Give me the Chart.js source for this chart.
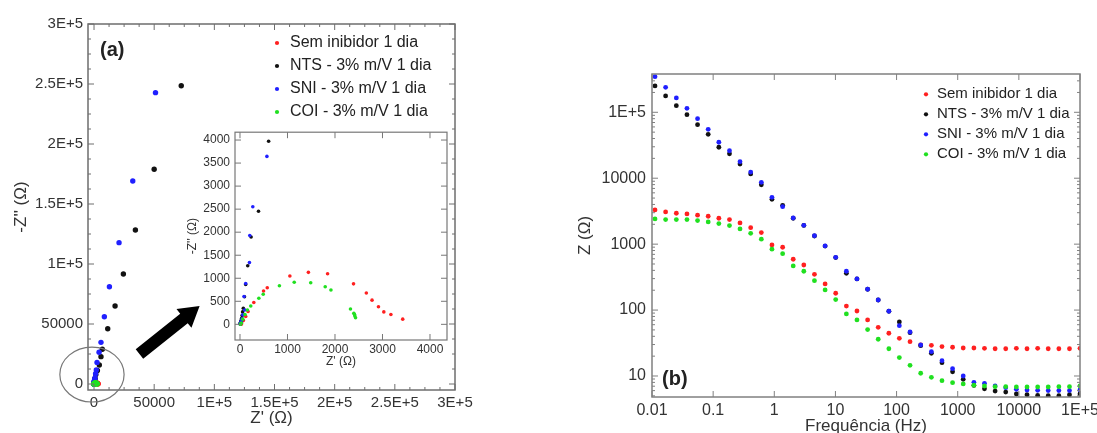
<!DOCTYPE html>
<html>
<head>
<meta charset="utf-8">
<script src="https://cdn.jsdelivr.net/npm/chart.js@4.4.1/dist/chart.umd.min.js"></script>
<style>
  html, body { margin: 0; padding: 0; background: #fff; }
  body { position: relative; width: 1097px; height: 433px; overflow: hidden; }
  canvas { position: absolute; }
  #nyq { left: 0; top: 0; }
  #inset { left: 170px; top: 120px; }
  #bode { left: 560px; top: 0; }
  .tag { position: absolute; font: bold 20px "Liberation Sans", Arial, sans-serif; color: #222; }
</style>
</head>
<body>
<canvas id="nyq" width="480" height="433"></canvas>
<canvas id="inset" width="300" height="260"></canvas>
<canvas id="bode" width="545" height="440"></canvas>
<div class="tag" style="left:100px; top:38px">(a)</div>
<div class="tag" style="left:662px; top:367px">(b)</div>
<script>
// series
var seriesNames = ['Sem inibidor 1 dia', 'NTS - 3% m/V 1 dia', 'SNI - 3% m/V 1 dia', 'COI - 3% m/V 1 dia'];
var seriesColors = ['#ff2020', '#111111', '#2020ff', '#20e020'];

// Nyquist (Z', -Z''), low frequency first
var nyqRedRe = [3426, 3177, 3028, 2915, 2780, 2660, 2390, 1844, 1440, 1050, 574, 496, 291, 170, 121, 71, 35, 26, 26];
var nyqRedIm = [113, 213, 270, 383, 525, 681, 879, 1099, 1128, 1050, 794, 723, 475, 277, 170, 85, 28, 8, 2];
var nyqBlackRe = [72500, 50000, 34400, 24400, 17500, 11400, 6900, 5800, 4400, 2800, 1500, 900, 603, 390, 234, 163, 120, 95, 70, 55, 45, 35, 25, 18, 12, 8, 6, 5];
var nyqBlackIm = [248600, 179000, 128300, 91700, 65000, 46100, 28900, 22800, 15800, 11200, 7850, 4700, 3972, 2454, 1894, 1270, 865, 600, 350, 270, 190, 130, 85, 58, 40, 25, 15, 8];
var nyqBlueRe = [51100, 32200, 20800, 12800, 8600, 5800, 4200, 2500, 1900, 1300, 800, 567, 270, 206, 199, 120, 85, 99, 57, 43, 33, 25, 18, 12, 8, 6, 5];
var nyqBlueIm = [242800, 169200, 117800, 81100, 56100, 34700, 26400, 18000, 11700, 8600, 5070, 3645, 2553, 1929, 1340, 887, 603, 312, 206, 121, 90, 55, 40, 25, 18, 12, 8];
var nyqGreenRe = [2433, 2418, 2411, 2397, 2326, 1915, 1794, 1489, 1142, 830, 489, 397, 227, 156, 106, 57, 28, 10, 7];
var nyqGreenIm = [142, 180, 213, 241, 333, 745, 816, 901, 915, 837, 652, 567, 397, 312, 213, 113, 28, 5, 1];

// Bode |Z| vs frequency
var bodeFreq = [0.0112, 0.0167, 0.025, 0.0373, 0.0556, 0.083, 0.124, 0.185, 0.275, 0.411, 0.614, 0.916, 1.37, 2.04, 3.04, 4.54, 6.78, 10.1, 15.1, 22.5, 33.6, 50.1, 74.8, 111, 166, 248, 371, 553, 824, 1230, 1840, 2740, 4090, 6100, 9100, 13600, 20300, 30200, 45100, 67300, 100000];
var bodeRed = [3300, 3080, 2940, 2870, 2750, 2650, 2470, 2360, 2100, 1780, 1500, 973, 897, 590, 483, 349, 249, 180, 115, 96.8, 70.8, 54.8, 44.5, 37.3, 33.1, 29.5, 29.2, 27.9, 27.3, 26.6, 26.6, 26.3, 25.9, 25.9, 26.3, 25.9, 26.3, 25.9, 25.9, 25.9, 26.3];
var bodeBlack = [251000, 177000, 126000, 92000, 64900, 46400, 29500, 23500, 16400, 11600, 7960, 4790, 3880, 2470, 1920, 1330, 935, 625, 361, 297, 207, 142, 95.9, 65.9, 45.4, 28.8, 22.1, 15.9, 11.6, 8.9, 7.2, 6.4, 5.9, 5.7, 5.33, 5.2, 5.08, 5.02, 5.02, 5.2, 5.33];
var bodeBlue = [347000, 239000, 165000, 115000, 80000, 55200, 35100, 26100, 17800, 12400, 8670, 5130, 3700, 2490, 1930, 1340, 940, 632, 388, 297, 207, 142, 95.9, 58, 46.5, 29.5, 23.4, 17.1, 12.9, 10, 8.02, 7.74, 7.05, 6.65, 6.28, 6.13, 6.07, 6, 6, 6, 6.13];
var bodeGreen = [2410, 2360, 2360, 2360, 2280, 2170, 2050, 1910, 1700, 1460, 1190, 838, 718, 467, 388, 279, 202, 144, 87.3, 70.8, 50.5, 36.1, 25.9, 19, 14.5, 11, 9.55, 8.49, 7.91, 7.57, 7.23, 7.05, 6.89, 6.89, 6.81, 6.81, 6.81, 6.81, 6.89, 6.89, 7.05];

// ticks
var nyqTicks = [0, 50000, 100000, 150000, 200000, 250000, 300000];
var nyqTickLabels = ['0', '50000', '1E+5', '1.5E+5', '2E+5', '2.5E+5', '3E+5'];
var insetXTicks = [0, 1000, 2000, 3000, 4000];
var insetXLabels = ['0', '1000', '2000', '3000', '4000'];
var insetYTicks = [0, 500, 1000, 1500, 2000, 2500, 3000, 3500, 4000];
var insetYLabels = ['0', '500', '1000', '1500', '2000', '2500', '3000', '3500', '4000'];
var bodeXTicks = [0.01, 0.1, 1, 10, 100, 1000, 10000, 100000];
var bodeXLabels = ['0.01', '0.1', '1', '10', '100', '1000', '10000', '1E+5'];
var bodeYTicks = [10, 100, 1000, 10000, 100000];
var bodeYLabels = ['10', '100', '1000', '10000', '1E+5'];

Chart.defaults.font.family = "'Liberation Sans', Arial, sans-serif";
Chart.defaults.color = '#333';
Chart.defaults.animation = false;

function pts(re, im) {
    return re.map(function (v, i) { return { x: v, y: im[i] }; });
}
function bodePts(z) {
    return bodeFreq.map(function (f, i) { return { x: f, y: z[i] }; });
}
// later series are painted on top, as in the original figure
function sets(list, r) {
    return seriesNames.map(function (name, i) {
        return {
            label: name, data: list[i], order: seriesNames.length - i,
            backgroundColor: seriesColors[i], borderColor: seriesColors[i], borderWidth: 0,
            pointRadius: r, pointHoverRadius: r, pointBorderWidth: 0
        };
    });
}
function axis(o) {
    return {
        type: o.type || 'linear', min: o.min, max: o.max,
        afterBuildTicks: function (s) { s.ticks = o.ticks.map(function (v) { return { value: v }; }); },
        afterFit: function (s) { if (o.w) s.width = o.w; if (o.h) s.height = o.h; },
        grid: { display: false, drawTicks: false }, border: { display: false },
        ticks: { autoSkip: false, maxRotation: 0, padding: o.pad, color: '#333', font: { size: o.fs },
                 callback: function (v, i) { return o.labels[i]; } },
        title: { display: true, text: o.title, color: '#333', font: { size: o.tfs }, padding: o.tpad }
    };
}
function frameTicks(o) {
    return {
        id: 'frameTicks',
        beforeDraw: function (chart) {
            if (!o.fill) return;
            var a = chart.chartArea, ctx = chart.ctx;
            ctx.save(); ctx.fillStyle = '#fff'; ctx.fillRect(a.left, a.top, a.width, a.height); ctx.restore();
        },
        afterDatasetsDraw: function (chart) {
            var ctx = chart.ctx, a = chart.chartArea, sx = chart.scales.x, sy = chart.scales.y;
            ctx.save();
            ctx.strokeStyle = o.color;
            ctx.lineWidth = 1;
            ctx.beginPath();
            function mark(vals, len, horiz) {
                vals.forEach(function (v) {
                    if (horiz) {
                        var p = sx.getPixelForValue(v);
                        if (p < a.left - 0.5 || p > a.right + 0.5) return;
                        ctx.moveTo(p, a.bottom); ctx.lineTo(p, a.bottom - len);
                        ctx.moveTo(p, a.top); ctx.lineTo(p, a.top + len);
                    } else {
                        var q = sy.getPixelForValue(v);
                        if (q < a.top - 0.5 || q > a.bottom + 0.5) return;
                        ctx.moveTo(a.left, q); ctx.lineTo(a.left + len, q);
                        ctx.moveTo(a.right, q); ctx.lineTo(a.right - len, q);
                    }
                });
            }
            mark(o.xMajor, 6, true); mark(o.xMinor || [], 3, true);
            mark(o.yMajor, 6, false); mark(o.yMinor || [], 3, false);
            ctx.stroke();
            ctx.lineWidth = o.width;
            ctx.strokeRect(a.left, a.top, a.width, a.height);
            ctx.restore();
        }
    };
}
function placeLegend(left, top) {
    return {
        id: 'placeLegend',
        beforeDraw: function (chart) {
            var lg = chart.legend, w = lg.width, h = lg.height;
            lg.left = left; lg.top = top; lg.right = left + w; lg.bottom = top + h;
        }
    };
}
function legendOpts(size, boxW, pad) {
    return {
        position: 'chartArea', align: 'start',
        labels: { usePointStyle: true, pointStyle: 'circle', boxWidth: boxW, boxHeight: 3, padding: pad,
                  color: '#222', font: { size: size },
                  sort: function (a, b) { return a.datasetIndex - b.datasetIndex; } }
    };
}

// minor ticks for the linear Nyquist axes
var nyqMinor = [];
for (var m = 12500; m < 300000; m += 12500) { if (m % 50000) nyqMinor.push(m); }
var bodeYMinor = [];
[1, 10, 100, 1000, 10000, 100000].forEach(function (d) {
    for (var k = 2; k <= 9; k++) bodeYMinor.push(k * d);
});

var nyqData = [pts(nyqRedRe, nyqRedIm), pts(nyqBlackRe, nyqBlackIm), pts(nyqBlueRe, nyqBlueIm), pts(nyqGreenRe, nyqGreenIm)];

var annot = {
    id: 'annot',
    afterDraw: function (chart) {
        var ctx = chart.ctx, x = chart.scales.x, y = chart.scales.y;
        var x0 = x.getPixelForValue(37750), y0 = y.getPixelForValue(25000);
        var x1 = x.getPixelForValue(87750), y1 = y.getPixelForValue(65000);
        var L = Math.hypot(x1 - x0, y1 - y0), ang = Math.atan2(y1 - y0, x1 - x0);
        var head = 20, hw = 12, sh = 6;
        ctx.save();
        ctx.translate(x0, y0); ctx.rotate(ang);
        ctx.fillStyle = '#000';
        ctx.beginPath();
        ctx.moveTo(0, -sh); ctx.lineTo(L - head, -sh); ctx.lineTo(L - head, -hw);
        ctx.lineTo(L, 0); ctx.lineTo(L - head, hw); ctx.lineTo(L - head, sh); ctx.lineTo(0, sh);
        ctx.closePath(); ctx.fill();
        ctx.restore();
        var cx = x.getPixelForValue(-1700), cy = y.getPixelForValue(7900);
        var rx = x.getPixelForValue(25000) - cx, ry = cy - y.getPixelForValue(30800);
        ctx.save();
        ctx.strokeStyle = '#777'; ctx.lineWidth = 1.2;
        ctx.beginPath(); ctx.ellipse(cx, cy, rx, ry, 0, 0, Math.PI * 2); ctx.stroke();
        ctx.restore();
    }
};

new Chart(document.getElementById('nyq'), {
    type: 'scatter',
    data: { datasets: sets(nyqData, 2.7) },
    options: {
        responsive: false, events: [],
        layout: { padding: { left: 0, top: 24, right: 25, bottom: 0 } },
        scales: {
            x: axis({ min: -5000, max: 300000, ticks: nyqTicks, labels: nyqTickLabels, h: 43, pad: 4, fs: 15,
                      title: "Z' (\u03A9)", tfs: 17, tpad: { top: 0, bottom: 4 } }),
            y: axis({ min: -5000, max: 300000, ticks: nyqTicks, labels: nyqTickLabels, w: 88, pad: 5, fs: 15,
                      title: "-Z'' (\u03A9)", tfs: 17, tpad: { top: 11, bottom: 0 } })
        },
        plugins: { tooltip: { enabled: false }, legend: legendOpts(16, 10, 7) }
    },
    plugins: [frameTicks({ color: '#6e6e6e', width: 1.5, xMajor: nyqTicks, xMinor: nyqMinor, yMajor: nyqTicks, yMinor: nyqMinor }),
              placeLegend(265, 28), annot]
});

new Chart(document.getElementById('inset'), {
    type: 'scatter',
    data: { datasets: sets(nyqData, 1.8) },
    options: {
        responsive: false, events: [],
        layout: { padding: { left: 0, top: 8, right: 23, bottom: 0 } },
        scales: {
            x: axis({ min: -105, max: 4358, ticks: insetXTicks, labels: insetXLabels, h: 40, pad: 2, fs: 12,
                      title: "Z' (\u03A9)", tfs: 12, tpad: { top: 0, bottom: 11 } }),
            y: axis({ min: -340, max: 4170, ticks: insetYTicks, labels: insetYLabels, w: 65, pad: 5, fs: 12,
                      title: "-Z'' (\u03A9)", tfs: 12, tpad: { top: 15, bottom: 0 } })
        },
        plugins: { tooltip: { enabled: false }, legend: { display: false } }
    },
    plugins: [frameTicks({ color: '#777', width: 1.2, fill: true, xMajor: insetXTicks, yMajor: insetYTicks })]
});

new Chart(document.getElementById('bode'), {
    type: 'scatter',
    data: { datasets: sets([bodePts(bodeRed), bodePts(bodeBlack), bodePts(bodeBlue), bodePts(bodeGreen)], 2.4) },
    options: {
        responsive: false, events: [],
        layout: { padding: { left: 0, top: 74, right: 25, bottom: 0 } },
        scales: {
            x: axis({ type: 'logarithmic', min: 0.01, max: 100000, ticks: bodeXTicks, labels: bodeXLabels, h: 43, pad: 4, fs: 16,
                      title: 'Frequência (Hz)', tfs: 17, tpad: { top: 0, bottom: 3 } }),
            y: axis({ type: 'logarithmic', min: 4.8, max: 381000, ticks: bodeYTicks, labels: bodeYLabels, w: 92, pad: 6, fs: 16,
                      title: 'Z (\u03A9)', tfs: 17, tpad: { top: 15.5, bottom: 0 } })
        },
        plugins: { tooltip: { enabled: false }, legend: legendOpts(15, 7, 5) }
    },
    plugins: [frameTicks({ color: '#808080', width: 1.5, xMajor: bodeXTicks, yMajor: bodeYTicks, yMinor: bodeYMinor }),
              placeLegend(357.5, 81.8)]
});
</script>
</body>
</html>
